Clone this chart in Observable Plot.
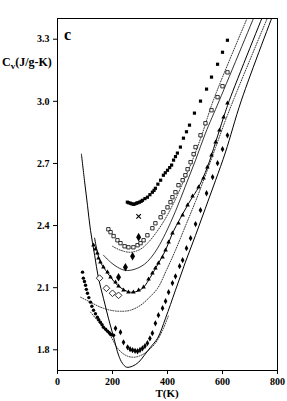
<!DOCTYPE html>
<html><head><meta charset="utf-8">
<script src="https://cdn.jsdelivr.net/npm/d3@7"></script>
<script src="https://cdn.jsdelivr.net/npm/@observablehq/plot@0.6"></script>
<style>body{margin:0;background:#fff}</style>
</head><body><div id="chart"></div>
<script>
// Tick values
const xTicks = [0, 200, 400, 600, 800];
const yTicks = [1.8, 2.1, 2.4, 2.7, 3.0, 3.3];

// Filled squares
const aT  = [254,259,265,270,276,281,287,292,298,304,309,318,327,336,345,351,356,365,375,385,392,400,408,415,422,429,436,447,458,469,480,498,520,542,560,582,600,618];
const aCv = [2.513,2.510,2.508,2.505,2.503,2.504,2.508,2.510,2.513,2.517,2.522,2.530,2.537,2.549,2.561,2.570,2.580,2.600,2.619,2.643,2.655,2.667,2.680,2.692,2.716,2.733,2.750,2.779,2.822,2.853,2.885,2.943,3.001,3.059,3.117,3.179,3.237,3.295];
// Open squares
const bT  = [185,193,204,218,229,244,258,276,291,302,313,327,345,356,375,385,400,411,418,429,440,455,465,473,484,495,502,520,538,560,582,600,618];
const bCv = [2.382,2.368,2.349,2.329,2.315,2.300,2.295,2.295,2.305,2.315,2.329,2.353,2.387,2.411,2.440,2.464,2.488,2.513,2.537,2.561,2.595,2.619,2.643,2.672,2.706,2.745,2.779,2.836,2.894,2.957,3.020,3.073,3.140];
// Filled diamonds
const dT  = [222,247,273,295];
const dCv = [2.150,2.199,2.252,2.344];
// Cross
const xT  = [295];
const xCv = [2.444];
// Open diamonds
const odT  = [153,178,200,222];
const odCv = [2.146,2.097,2.073,2.063];
// Filled triangles
const eT  = [131,138,145,149,156,167,182,193,211,222,240,258,276,295,313,331,345,356,367,382,393,404,418,440,455,473,491,513,531,545,560,575,589,604,618];
const eCv = [2.305,2.286,2.267,2.242,2.223,2.199,2.175,2.151,2.127,2.107,2.088,2.078,2.078,2.088,2.102,2.141,2.170,2.194,2.218,2.247,2.281,2.320,2.363,2.411,2.450,2.498,2.542,2.585,2.629,2.682,2.740,2.803,2.861,2.923,2.991];
// Filled circles (low T)
const fT  = [91,94,98,102,105,109,114,120,125,131,138,145,150,156,162,167,175,182,188,193,198,204];
const fCv = [2.175,2.146,2.130,2.112,2.092,2.073,2.052,2.030,2.010,1.991,1.974,1.957,1.945,1.933,1.921,1.909,1.899,1.890,1.882,1.875,1.872,1.870];
// Lowest filled series
const gT  = [211,229,240,255,264,273,282,291,300,309,318,327,336,345,356,367,382,393,404,418,429,444,455,469,484,502,520,542,564,582,600,618];
const gCv = [1.904,1.885,1.836,1.812,1.803,1.798,1.795,1.793,1.799,1.807,1.818,1.832,1.855,1.880,1.928,1.967,2.001,2.035,2.078,2.122,2.155,2.204,2.233,2.291,2.339,2.407,2.474,2.556,2.634,2.701,2.769,2.836];

// Solid curves
const s1T  = [87,98,109,120,135,149,167,185,204,222,236,251,273,295,316,338,364,393,429,465,502,538,575,611,669,790];
const s1Cv = [2.745,2.619,2.498,2.377,2.257,2.146,2.049,1.953,1.861,1.774,1.735,1.716,1.721,1.740,1.774,1.812,1.856,1.953,2.088,2.223,2.353,2.484,2.619,2.755,3.006,3.440];
const s2T  = [135,145,156,175,193,218,244,265,291,313,338,367,393,418,447,484,513,545,575,604,625,755];
const s2Cv = [2.339,2.271,2.223,2.184,2.151,2.112,2.088,2.078,2.083,2.102,2.151,2.218,2.281,2.363,2.436,2.523,2.585,2.682,2.803,2.923,3.005,3.440];
const s3T  = [167,193,218,244,265,291,316,338,364,393,429,465,502,538,589,725];
const s3Cv = [2.257,2.223,2.199,2.184,2.184,2.194,2.213,2.242,2.291,2.363,2.469,2.590,2.716,2.846,3.006,3.440];
// Dotted curves
const d1T  = [200,229,265,302,331,360,389,422,455,491,527,567,702];
const d1Cv = [2.300,2.281,2.271,2.286,2.320,2.368,2.426,2.508,2.604,2.716,2.846,3.006,3.440];
const d2T  = [84,120,156,193,229,265,302,331,364,396,429,465,502,538,575,611,647,775];
const d2Cv = [2.054,2.030,2.006,1.991,1.986,1.991,2.015,2.049,2.097,2.184,2.281,2.397,2.517,2.643,2.778,2.909,3.030,3.440];
const d3T  = [120,156,193,218,247,276,305,331,356,382,404];
const d3Cv = [1.982,1.924,1.866,1.808,1.774,1.764,1.774,1.798,1.832,1.894,1.967];

const pts = (T, C) => T.map((t, i) => ({T: t, Cv: C[i]}));

const solid = {x: "T", y: "Cv", stroke: "black", strokeWidth: 1, curve: "catmull-rom", clip: true};
const dotted = {x: "T", y: "Cv", stroke: "black", strokeWidth: 0.8, strokeDasharray: "1,1.5", curve: "catmull-rom", clip: true};

const svg = Plot.plot({
  width: 287, height: 401,
  marginLeft: 57, marginRight: 10, marginTop: 18, marginBottom: 31,
  style: {fontFamily: "Liberation Serif", fontWeight: "bold", fontSize: "10px", background: "white", color: "black"},
  x: {domain: [0, 800]},
  y: {domain: [1.7, 3.4]},
  marks: [
    Plot.line(pts(s1T, s1Cv), solid),
    Plot.line(pts(s2T, s2Cv), solid),
    Plot.line(pts(s3T, s3Cv), {...solid, strokeWidth: 0.8}),
    Plot.line(pts(d1T, d1Cv), dotted),
    Plot.line(pts(d2T, d2Cv), dotted),
    Plot.line(pts(d3T, d3Cv), dotted),
    Plot.dot(pts(aT, aCv), {x: "T", y: "Cv", symbol: "square", fill: "black", r: 1.8}),
    Plot.dot(pts(bT, bCv), {x: "T", y: "Cv", symbol: "square", fill: "white", stroke: "black", strokeWidth: 0.8, r: 1.9}),
    Plot.dot(pts(dT, dCv), {x: "T", y: "Cv", symbol: "diamond", fill: "black", r: 2.6}),
    Plot.dot(pts(xT, xCv), {x: "T", y: "Cv", symbol: "times", stroke: "black", strokeWidth: 1.1, r: 2.2}),
    Plot.dot(pts(odT, odCv), {x: "T", y: "Cv", symbol: "diamond2", fill: "white", stroke: "black", strokeWidth: 0.8, r: 3}),
    Plot.dot(pts(eT, eCv), {x: "T", y: "Cv", symbol: "triangle", fill: "black", r: 1.7}),
    Plot.dot(pts(fT, fCv), {x: "T", y: "Cv", symbol: "circle", fill: "black", r: 1.7}),
    Plot.dot(pts(gT, gCv), {x: "T", y: "Cv", symbol: "diamond", fill: "black", r: 1.9}),
    Plot.frame({stroke: "black", strokeWidth: 1}),
    Plot.axisX({ticks: xTicks, tickSize: 4, tickPadding: 3, label: null, tickFormat: d3.format("d")}),
    Plot.axisY({ticks: yTicks, tickSize: 4, tickPadding: 4, label: null, tickFormat: d3.format(".1f")})
  ]
});

const s = d3.select(svg);
const yl = s.append("text").attr("x", 2).attr("y", 66).attr("text-anchor", "start")
  .attr("font-family", "Liberation Serif").attr("font-weight", "bold").attr("font-size", 12).attr("fill", "black");
yl.append("tspan").text("C");
yl.append("tspan").attr("font-size", 9).attr("dy", 3).text("v");
yl.append("tspan").attr("dy", -3).text("(J/g-K)");
s.append("text").attr("x", 167).attr("y", 397).attr("text-anchor", "middle")
  .attr("font-family", "Liberation Serif").attr("font-weight", "bold").attr("font-size", 11).attr("fill", "black").text("T(K)");
s.append("text").attr("x", 64).attr("y", 40).attr("text-anchor", "start")
  .attr("font-family", "Liberation Serif").attr("font-weight", "bold").attr("font-size", 16).attr("fill", "black").text("c");

document.getElementById("chart").appendChild(svg);
</script>
</body></html>
